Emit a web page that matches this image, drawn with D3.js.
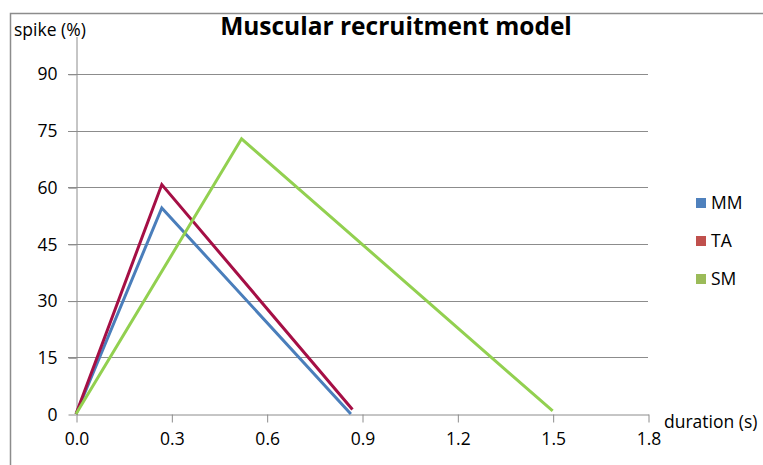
<!DOCTYPE html>
<html>
<head>
<meta charset="utf-8">
<script src="https://cdn.jsdelivr.net/npm/d3@7"></script>
<style>
  body { margin: 0; background: #fff; }
  svg { display: block; font-family: "Open Sans", "Noto Sans", sans-serif; }
</style>
</head>
<body>
<svg id="chart"></svg>
<script>
// series data: [duration (s), spike (%)]
const seriesNames = ['MM', 'TA', 'SM'];
const mmPoints = [[0, 0], [0.27, 54.5], [0.865, 0]];
const taPoints = [[0, 0], [0.27, 60.7], [0.87, 1.2]];
const smPoints = [[0, 0], [0.521, 72.8], [1.5, 0.8]];
const xTicks = [0, 0.3, 0.6, 0.9, 1.2, 1.5, 1.8];
const yTicks = [0, 15, 30, 45, 60, 75, 90];

const lineColors = ['#4a7ebb', '#a50f45', '#92d050'];
const legendColors = ['#4f81bd', '#c0504d', '#9bbb59'];

const width = 763, height = 465;
const margin = { left: 76, right: 115, top: 36, bottom: 51 };
const labelFont = '"Open Sans", sans-serif';
const labelSize = 17.5;

const svg = d3.select('#chart')
  .attr('width', width)
  .attr('height', height);

// outer frame (clipped by the window)
svg.append('path')
  .attr('d', `M10.5,${height} V13.5 H${width}`)
  .attr('fill', 'none')
  .attr('stroke', '#8c8c8c')
  .attr('stroke-width', 1.5);

const x = d3.scaleLinear().domain([0, 1.8]).range([margin.left, width - margin.right]);
const y = d3.scaleLinear().domain([0, 100]).range([height - margin.bottom, margin.top]);

// gridlines
svg.append('g')
  .selectAll('line')
  .data(yTicks.filter(d => d > 0))
  .join('line')
  .attr('x1', x(0) - 8)
  .attr('x2', x(1.8))
  .attr('y1', d => Math.round(y(d)) + 0.5)
  .attr('y2', d => Math.round(y(d)) + 0.5)
  .attr('stroke', '#8c8c8c')
  .attr('stroke-width', 1);

// y axis
const yAxis = d3.axisLeft(y).tickValues(yTicks).tickSize(8).tickSizeOuter(0).tickPadding(11).tickFormat(d3.format('d'));
const yG = svg.append('g')
  .attr('transform', `translate(${x(0) + 0.5},0.5)`)
  .call(yAxis)
  .attr('font-size', labelSize)
  .attr('font-family', labelFont);
yG.selectAll('line, path').attr('stroke', '#8c8c8c');
yG.selectAll('text').attr('fill', '#000');

// x axis
const xAxis = d3.axisBottom(x).tickValues(xTicks).tickSize(8).tickSizeOuter(0).tickPadding(10).tickFormat(d3.format('.1f'));
const xG = svg.append('g')
  .attr('transform', `translate(0.5,${Math.round(y(0)) + 0.5})`)
  .call(xAxis)
  .attr('font-size', labelSize)
  .attr('font-family', labelFont);
xG.selectAll('line, path').attr('stroke', '#8c8c8c');
xG.selectAll('text').attr('fill', '#000');

// lines
const line = d3.line().x(d => x(d[0])).y(d => y(d[1]));
[mmPoints, taPoints, smPoints].forEach((pts, i) => {
  svg.append('path')
    .datum(pts)
    .attr('d', line)
    .attr('fill', 'none')
    .attr('stroke', lineColors[i])
    .attr('stroke-width', 3);
});

// titles
svg.append('text')
  .attr('x', 396)
  .attr('y', 35)
  .attr('text-anchor', 'middle')
  .attr('font-size', 24.5)
  .attr('font-weight', 'bold')
  .text('Muscular recruitment model');

svg.append('text')
  .attr('x', 14)
  .attr('y', 36)
  .attr('font-size', labelSize)
  .text('spike (%)');

svg.append('text')
  .attr('x', 664)
  .attr('y', 428)
  .attr('font-size', labelSize)
  .text('duration (s)');

// legend
const legend = svg.append('g')
  .selectAll('g')
  .data(seriesNames)
  .join('g')
  .attr('transform', (d, i) => `translate(696,${198 + i * 38})`);
legend.append('rect')
  .attr('width', 10)
  .attr('height', 10)
  .attr('fill', (d, i) => legendColors[i]);
legend.append('text')
  .attr('x', 15)
  .attr('y', 11)
  .attr('font-size', labelSize)
  .text(d => d);
</script>
</body>
</html>
